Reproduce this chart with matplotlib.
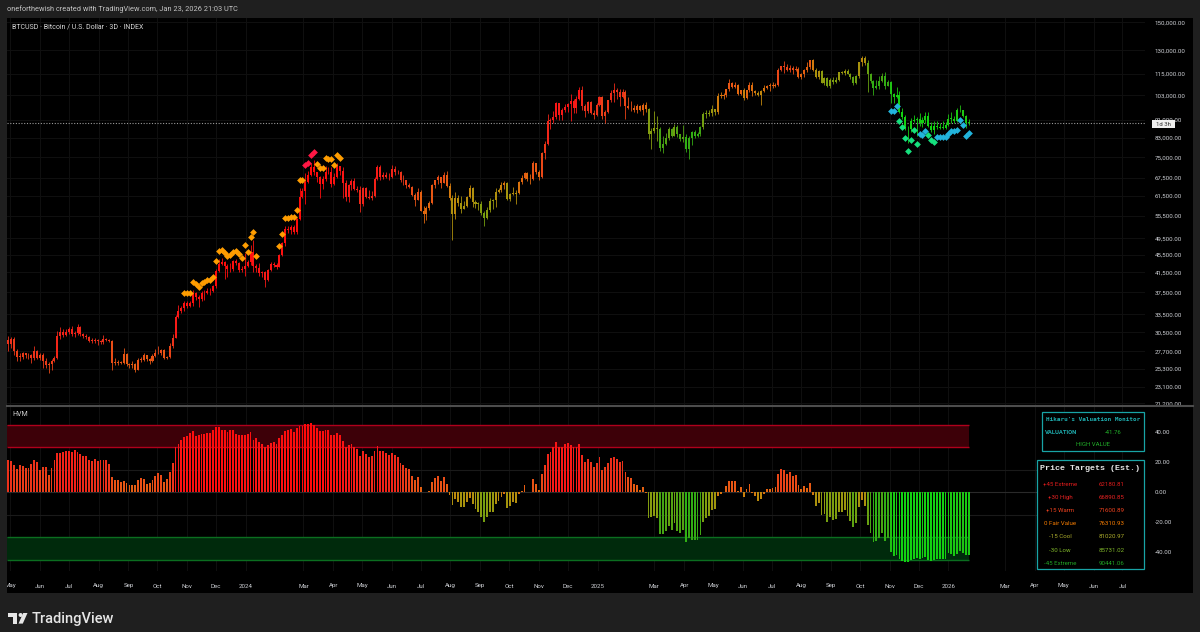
import numpy as np
import pandas as pd
import matplotlib
matplotlib.use("Agg")
import matplotlib.pyplot as plt
import matplotlib.dates as mdates
from matplotlib.colors import LinearSegmentedColormap
from matplotlib.patches import Rectangle, Polygon, Circle

plt.rcParams["font.family"] = ["Roboto", "DejaVu Sans"]

W, H = 1200, 632

# --- BTCUSD 3D candles (prices in k USD), first candle opens 2023-04-29 ---
START = "2023-04-29"
FIRST_OPEN = 29.3
CLOSE = [
    28.7, 29.5, 27.7, 26.9, 26.9, 27.4, 27.1, 27.2, 26.7, 27.7,
    26.8, 27.1, 26.3, 25.8, 25.9, 26.3, 26.8, 29.9, 30.5, 30.1,
    30.6, 31.0, 30.3, 30.4, 31.4, 30.2, 29.9, 29.8, 29.2, 29.3,
    29.2, 29.2, 29.0, 29.5, 29.4, 29.2, 26.1, 26.1, 26.2, 26.1,
    27.3, 25.9, 25.8, 25.9, 25.2, 26.5, 26.5, 27.1, 26.6, 26.3,
    27.0, 27.5, 27.4, 27.9, 26.8, 26.9, 28.4, 29.7, 33.0, 34.1,
    34.5, 35.4, 35.0, 35.4, 37.3, 36.5, 36.2, 37.4, 37.3, 37.7,
    37.8, 38.7, 41.9, 43.3, 43.8, 42.9, 42.3, 42.2, 44.0, 43.6,
    42.1, 42.3, 42.8, 43.9, 46.1, 42.8, 42.5, 41.3, 41.6, 40.0,
    42.1, 43.3, 43.2, 42.7, 45.3, 48.3, 51.8, 51.6, 52.3, 51.0,
    54.5, 61.2, 63.1, 66.1, 68.3, 71.5, 69.4, 67.6, 65.5, 67.2,
    69.5, 69.6, 65.5, 67.8, 71.6, 70.0, 65.7, 61.3, 64.9, 66.4,
    63.8, 63.4, 59.1, 64.0, 61.2, 60.8, 61.6, 67.0, 71.4, 67.9,
    68.5, 67.6, 67.7, 70.6, 69.4, 69.6, 66.8, 66.6, 64.9, 64.3,
    61.8, 60.3, 62.8, 57.0, 55.9, 57.7, 59.2, 65.0, 66.7, 67.6,
    65.8, 68.3, 64.6, 60.7, 56.0, 60.9, 59.3, 57.5, 58.4, 61.1,
    64.2, 59.5, 59.0, 59.1, 56.2, 54.8, 57.3, 60.0, 60.3, 62.9,
    63.3, 65.2, 65.6, 60.6, 62.1, 62.1, 62.4, 66.0, 67.4, 69.0,
    67.0, 67.0, 72.7, 69.5, 67.8, 76.5, 80.4, 90.5, 90.6, 92.3,
    98.9, 93.0, 95.6, 97.2, 98.7, 99.9, 96.6, 101.4, 106.0, 97.5,
    95.1, 99.4, 94.3, 93.4, 98.1, 102.1, 92.5, 94.5, 100.5, 104.4,
    106.1, 104.7, 102.1, 104.7, 97.7, 96.6, 96.5, 95.8, 97.5, 95.7,
    98.3, 96.1, 84.7, 86.0, 87.2, 86.7, 78.5, 80.4, 82.6, 86.8,
    83.8, 87.4, 84.3, 82.5, 83.1, 78.2, 82.6, 85.3, 83.7, 84.5,
    87.5, 93.9, 93.8, 94.2, 95.9, 94.7, 102.9, 102.8, 103.5, 106.4,
    109.6, 107.8, 108.9, 103.9, 105.8, 101.6, 105.7, 108.7, 105.5, 104.5,
    103.3, 105.4, 106.9, 108.4, 108.8, 108.2, 108.9, 117.5, 119.8, 119.3,
    117.3, 118.7, 117.6, 117.9, 113.3, 115.0, 117.5, 119.3, 123.3, 117.4,
    113.5, 116.9, 110.1, 112.6, 108.2, 111.7, 110.2, 111.4, 116.0, 115.4,
    117.1, 115.2, 113.3, 109.7, 114.0, 122.2, 124.7, 121.6, 115.2, 110.8,
    107.2, 108.4, 111.0, 114.1, 108.3, 110.6, 103.9, 102.3, 103.0, 94.5,
    92.2, 86.6, 86.8, 90.5, 90.8, 91.3, 89.4, 90.6, 92.5, 88.2,
    86.1, 88.1, 87.5, 87.3, 87.2, 88.7, 91.5, 91.3, 90.5, 95.5,
    95.5, 92.6, 89.5, 89.4,
]
HIGH = [
    29.9, 29.8, 29.8, 28.0, 27.5, 27.6, 27.5, 27.5, 27.3, 28.4,
    27.8, 27.4, 27.4, 26.8, 26.2, 26.6, 27.0, 30.8, 31.4, 31.0,
    31.0, 31.3, 31.5, 30.8, 31.8, 31.5, 30.4, 30.2, 30.0, 29.7,
    29.6, 29.5, 29.4, 30.1, 29.7, 29.5, 29.4, 26.8, 26.5, 26.4,
    28.1, 27.5, 26.1, 26.4, 26.1, 26.8, 26.9, 27.4, 27.2, 26.7,
    27.3, 28.0, 28.5, 28.0, 28.0, 27.0, 28.9, 30.2, 33.4, 35.2,
    34.9, 35.9, 35.8, 35.8, 38.0, 37.5, 37.0, 37.8, 37.9, 38.4,
    38.3, 38.9, 42.3, 44.5, 44.7, 44.0, 43.4, 43.5, 44.3, 44.4,
    43.7, 43.0, 45.9, 44.3, 47.9, 49.0, 43.3, 43.6, 41.9, 41.8,
    42.2, 43.9, 43.9, 43.6, 45.6, 48.6, 52.8, 52.8, 52.9, 52.9,
    54.9, 64.0, 63.9, 69.0, 69.9, 72.9, 73.8, 69.6, 68.1, 68.2,
    71.7, 71.5, 71.3, 69.2, 72.7, 71.7, 71.3, 66.9, 65.4, 67.2,
    67.4, 64.7, 64.7, 64.5, 64.4, 63.4, 63.0, 67.6, 71.9, 71.9,
    69.5, 69.5, 69.2, 71.9, 71.8, 70.1, 70.0, 68.4, 66.9, 65.6,
    64.6, 62.4, 63.9, 63.4, 58.5, 58.4, 59.8, 65.3, 66.9, 68.4,
    67.9, 69.4, 70.0, 65.6, 61.9, 62.7, 61.8, 61.6, 59.8, 61.5,
    64.9, 64.5, 60.2, 59.5, 59.8, 56.9, 58.1, 60.7, 60.5, 64.1,
    64.1, 66.0, 66.5, 66.0, 62.4, 64.5, 63.4, 66.5, 68.4, 69.5,
    69.5, 68.9, 73.6, 73.0, 70.1, 76.9, 81.5, 93.5, 91.8, 94.9,
    99.5, 99.0, 96.6, 98.7, 99.0, 103.9, 101.3, 102.5, 107.8, 108.3,
    98.4, 99.9, 99.9, 95.5, 98.9, 102.7, 102.5, 95.8, 100.7, 105.8,
    109.6, 106.8, 106.5, 106.4, 106.0, 102.4, 100.1, 98.1, 98.4, 98.3,
    98.9, 99.5, 96.7, 87.1, 95.0, 92.8, 87.5, 83.7, 85.0, 87.4,
    87.0, 88.8, 88.5, 84.7, 88.5, 84.7, 83.5, 86.0, 86.4, 85.5,
    88.1, 94.6, 95.7, 95.6, 97.9, 96.0, 104.2, 104.9, 104.4, 106.7,
    111.9, 110.5, 110.2, 109.3, 106.0, 106.9, 106.0, 110.4, 110.2, 106.2,
    105.6, 106.2, 108.5, 108.8, 109.8, 110.5, 109.7, 118.9, 120.0, 123.2,
    120.9, 120.2, 119.9, 119.8, 119.3, 115.8, 117.8, 122.3, 123.7, 124.5,
    118.6, 117.4, 117.4, 113.3, 113.4, 112.5, 113.4, 113.3, 116.3, 116.7,
    117.9, 117.9, 115.6, 114.0, 114.4, 122.5, 125.9, 126.2, 123.6, 115.9,
    111.6, 111.8, 113.9, 115.5, 116.2, 111.3, 111.1, 104.5, 107.5, 105.3,
    96.6, 93.2, 88.2, 91.9, 93.0, 92.0, 94.1, 92.2, 94.6, 94.5,
    90.0, 90.4, 90.4, 89.4, 90.4, 89.8, 93.9, 94.8, 92.5, 96.4,
    97.9, 95.6, 93.4, 91.2,
]
LOW = [
    27.7, 28.2, 27.2, 26.4, 26.3, 26.6, 26.7, 26.6, 26.1, 26.5,
    26.6, 26.5, 25.4, 25.4, 24.8, 25.2, 26.2, 26.6, 29.5, 29.8,
    29.9, 30.3, 29.9, 29.8, 30.1, 29.9, 29.6, 29.5, 29.0, 28.9,
    28.9, 28.6, 28.7, 28.8, 29.2, 29.0, 25.2, 25.8, 25.8, 25.9,
    25.9, 25.7, 25.4, 25.4, 24.9, 25.1, 26.2, 26.4, 26.4, 26.0,
    26.2, 26.9, 27.3, 27.1, 26.6, 26.6, 26.8, 28.2, 29.6, 32.9,
    33.7, 34.1, 34.6, 34.7, 35.0, 36.0, 34.8, 35.8, 36.1, 37.1,
    36.9, 37.6, 38.4, 41.5, 43.1, 40.2, 40.6, 41.7, 41.8, 43.1,
    41.5, 41.5, 40.8, 42.6, 43.2, 41.5, 41.7, 40.7, 40.6, 38.5,
    39.8, 41.8, 42.6, 42.3, 42.6, 45.2, 47.6, 50.8, 50.6, 50.5,
    50.6, 54.4, 60.8, 59.0, 65.6, 68.1, 68.3, 66.0, 60.8, 63.8,
    66.5, 68.9, 64.5, 65.1, 67.4, 68.6, 60.7, 59.8, 59.6, 63.5,
    63.3, 62.9, 56.5, 58.5, 60.8, 60.6, 60.1, 61.2, 66.6, 66.7,
    67.2, 67.3, 66.7, 67.4, 68.6, 68.8, 66.1, 65.0, 64.0, 63.9,
    61.6, 58.5, 60.2, 56.8, 53.5, 54.3, 57.1, 59.0, 63.9, 65.4,
    64.1, 65.6, 64.4, 60.1, 49.1, 54.7, 58.5, 56.2, 57.4, 58.1,
    60.8, 58.1, 57.9, 57.2, 55.7, 52.6, 54.6, 56.6, 57.6, 58.2,
    62.4, 62.8, 63.6, 60.2, 59.9, 61.9, 58.9, 62.2, 65.4, 67.1,
    66.3, 65.3, 66.9, 68.8, 66.8, 67.4, 74.5, 79.9, 86.6, 89.4,
    91.5, 91.0, 90.9, 94.5, 94.6, 90.5, 94.2, 94.0, 100.8, 95.6,
    92.2, 94.2, 93.8, 91.5, 92.8, 97.4, 91.2, 89.3, 94.1, 99.8,
    99.5, 101.2, 97.8, 101.8, 91.2, 96.2, 95.3, 94.8, 94.1, 95.2,
    93.4, 94.8, 82.3, 78.2, 85.0, 81.5, 77.5, 76.6, 79.9, 82.0,
    83.2, 83.6, 83.2, 81.6, 81.2, 77.0, 74.5, 79.8, 83.0, 83.1,
    83.8, 86.5, 91.8, 92.8, 92.9, 93.4, 93.6, 101.5, 101.4, 102.0,
    105.4, 106.8, 106.8, 103.2, 103.0, 100.4, 101.0, 105.0, 102.8, 103.5,
    102.6, 98.2, 104.8, 106.4, 105.2, 107.2, 107.5, 108.3, 116.6, 115.7,
    116.8, 116.3, 115.0, 117.1, 112.7, 111.9, 113.0, 116.4, 118.3, 116.8,
    112.4, 112.0, 109.7, 108.7, 107.5, 107.3, 109.4, 110.0, 111.0, 114.8,
    114.6, 114.8, 111.9, 108.7, 109.0, 112.7, 119.8, 120.6, 104.6, 109.8,
    103.5, 106.3, 106.7, 110.5, 106.3, 108.1, 98.9, 99.3, 101.5, 94.0,
    91.2, 86.1, 80.5, 85.3, 89.9, 83.8, 88.0, 87.7, 89.3, 87.6,
    85.2, 84.4, 86.8, 86.6, 86.7, 86.9, 88.2, 89.3, 89.6, 90.0,
    94.6, 92.0, 87.3, 88.3,
]
# HVM oscillator, one value per candle
HVM = [
    21.3, 21.0, 18.0, 15.5, 18.0, 17.3, 16.4, 16.0, 18.7, 21.3,
    20.0, 15.0, 17.0, 17.0, 11.5, 16.0, 21.3, 26.0, 26.0, 27.0,
    27.3, 27.8, 27.0, 28.4, 27.0, 25.3, 24.2, 24.2, 21.5, 20.7,
    22.2, 21.0, 21.5, 21.5, 21.5, 19.0, 10.2, 8.2, 8.0, 7.1,
    7.3, 6.0, 4.9, 4.9, 5.1, 8.4, 9.6, 8.7, 5.6, 6.4,
    8.4, 11.1, 12.7, 11.5, 7.1, 8.7, 13.6, 19.8, 30.2, 32.2,
    34.9, 36.9, 37.3, 39.6, 40.9, 37.3, 38.2, 38.7, 38.9, 39.3,
    39.8, 41.3, 43.6, 43.3, 41.3, 41.6, 40.4, 41.6, 41.6, 38.9,
    38.2, 38.2, 38.2, 38.9, 40.0, 35.1, 36.4, 33.8, 32.4, 30.0,
    31.8, 32.9, 33.6, 32.4, 36.4, 38.4, 40.9, 41.8, 42.2, 40.4,
    42.7, 44.4, 44.4, 45.3, 45.6, 46.2, 44.9, 43.1, 41.1, 41.1,
    41.6, 41.6, 38.2, 38.2, 39.8, 38.2, 34.2, 30.2, 31.6, 32.4,
    30.2, 29.1, 24.2, 27.3, 25.6, 23.8, 24.2, 27.3, 30.7, 27.6,
    27.6, 26.2, 24.9, 26.2, 24.7, 23.8, 19.8, 18.4, 16.4, 15.3,
    11.1, 8.2, 10.2, 3.8, 0.4, 0.4, 0.9, 6.9, 9.3, 11.1,
    7.8, 10.2, 5.6, -1.8, -8.4, -4.7, -6.2, -10.0, -9.6, -6.2,
    -3.6, -8.0, -11.1, -12.9, -16.7, -19.6, -16.2, -13.3, -12.9, -7.8,
    -5.6, -2.9, -1.3, -10.7, -9.1, -6.7, -7.3, -1.3, 0.9, 4.9,
    0.3, 0.3, 8.7, 5.8, 1.6, 12.2, 18.2, 25.3, 27.1, 30.0,
    33.3, 30.2, 30.4, 32.4, 32.9, 31.6, 30.4, 30.4, 32.4, 24.9,
    20.4, 22.2, 20.4, 16.9, 19.8, 23.3, 14.9, 16.9, 19.3, 22.7,
    23.6, 22.2, 20.0, 20.7, 13.6, 10.2, 9.8, 5.3, 4.9, 1.6,
    3.3, -0.7, -16.9, -16.4, -15.6, -16.9, -27.6, -27.6, -25.8, -22.2,
    -25.1, -20.7, -25.8, -27.1, -25.1, -33.3, -30.7, -31.8, -31.8, -31.8,
    -28.4, -19.6, -17.3, -15.6, -11.8, -11.3, -2.4, -1.1, 0.5, 4.2,
    7.3, 7.3, 7.3, 0.9, 3.6, -2.9, 2.0, 5.6, -0.7, -2.4,
    -5.6, -4.2, -1.3, 2.0, 2.0, 2.9, 3.6, 12.2, 15.6, 14.7,
    12.4, 13.3, 11.1, 11.6, 4.7, 2.0, 4.2, 2.7, 6.2, -1.8,
    -9.1, -7.3, -15.1, -14.7, -19.6, -16.2, -18.2, -17.8, -12.9, -12.9,
    -11.8, -15.6, -18.9, -23.3, -20.4, -9.6, -5.1, -8.9, -21.8, -27.3,
    -32.9, -32.7, -30.7, -26.9, -32.4, -30.7, -39.6, -42.2, -41.8, -44.4,
    -45.6, -46.2, -46.2, -45.1, -44.4, -44.0, -44.4, -44.0, -42.9, -45.1,
    -45.6, -45.1, -44.4, -44.4, -44.2, -44.4, -40.7, -41.3, -42.2, -41.3,
    -38.9, -40.2, -41.8, -41.8,
]
# valuation signal diamonds: (first candle, last candle) runs
HOT_RUNS = [(61, 86), (94, 102), (107, 115)]
EXTREME_HOT_RUNS = [(103, 106)]
COLD_RUNS = [(306, 308), (316, 318), (322, 333)]
EXTREME_COLD_RUNS = [(309, 315), (319, 321)]

PRICE_TICKS = [150000, 130000, 115000, 103000, 91000, 83000, 75000, 67500,
               61500, 55500, 49500, 45500, 41500, 37500, 33500, 30500,
               27700, 25300, 23100, 21200]
HVM_TICKS = [40, 20, 0, -20, -40]

TARGET_LABELS = ["+45 Extreme", "+30 High", "+15 Warm", "0 Fair Value",
                 "-15 Cool", "-30 Low", "-45 Extreme"]
TARGET_VALUES = [62180.81, 66890.85, 71600.89, 76310.93, 81020.97, 85731.02, 90441.06]
TARGET_COLORS = ["#e01c1c", "#ea2222", "#f0421f", "#f57c00", "#adad2c", "#7fb52a", "#22a626"]
VALUATION = -41.76

# colour ramp of the indicator (value -> colour)
STOPS = [(-45, "#12d212"), (-30, "#38a614"), (-15, "#8e9c0e"), (-4, "#c2880c"),
         (0, "#e26a0e"), (10, "#ea4e16"), (22, "#ec2e1a"), (32, "#fa1616"), (45, "#ff0a0a")]
cmap = LinearSegmentedColormap.from_list(
    "hvm", [((v + 45) / 90, c) for v, c in STOPS])


def hvm_color(v):
    return cmap(np.clip((np.asarray(v) + 45) / 90, 0, 1))


def frac(x0, y0, x1, y1):
    return [x0 / W, 1 - y1 / H, (x1 - x0) / W, (y1 - y0) / H]


def px_axes(z):
    a = fig.add_axes([0, 0, 1, 1], zorder=z)
    a.set_xlim(0, W)
    a.set_ylim(H, 0)
    a.axis("off")
    a.patch.set_alpha(0)
    return a


def expand(runs):
    return [i for a, b in runs for i in range(a, b + 1)]


dates = pd.date_range(START, periods=len(CLOSE), freq="3D")
x = mdates.date2num(dates)
close = np.array(CLOSE) * 1000
open_ = np.r_[FIRST_OPEN, CLOSE[:-1]] * 1000
high = np.maximum.reduce([np.array(HIGH) * 1000, open_, close])
low = np.minimum.reduce([np.array(LOW) * 1000, open_, close])
hvm = np.array(HVM)
cols = hvm_color(hvm)

fig = plt.figure(figsize=(W / 100, H / 100), dpi=100, facecolor="#1f1f1f")
bg = px_axes(0)
bg.add_patch(Rectangle((7, 18), 1186, 575, fc="black", ec="none"))

ax = fig.add_axes(frac(7, 18, 1145, 405), zorder=1, facecolor="black")
ax2 = fig.add_axes(frac(7, 407, 1145, 571), zorder=1, facecolor="black", sharex=ax)
top = px_axes(3)

grid_c = "#101010"
lbl_c = "#cfd1d6"

# x range: first candle at px 8.3, ~0.9613 px per day
x_left = x[0] - 1.3 / 0.9613
x_right = x_left + 1138 / 0.9613

# month ticks (TradingView skips Feb, shows the year for Jan)
months = pd.date_range("2023-05-01", "2026-07-01", freq="MS")
months = months[months.month != 2]
mx = mdates.date2num(months)
mlab = [str(m.year) if m.month == 1 else m.strftime("%b") for m in months]

# ---- price pane ----
ax.set_yscale("log")
ax.set_ylim(21012, 153350)
ax.vlines(x, low, high, colors=cols, lw=0.6, zorder=3)
body_lo = np.minimum(open_, close)
body_h = np.maximum(np.abs(close - open_), body_lo * 0.003)
ax.bar(x, body_h, bottom=body_lo, width=2.1, color=cols, linewidth=0, zorder=4)

for runs, color, side in [(HOT_RUNS, "#ff9d00", 1), (EXTREME_HOT_RUNS, "#ff1744", 1),
                          (COLD_RUNS, "#22b4dc", -1), (EXTREME_COLD_RUNS, "#16e07e", -1)]:
    idx = expand(runs)
    yy = high[idx] * 1.042 if side > 0 else low[idx] / 1.042
    ax.scatter(x[idx], yy, marker="D", s=12, color=color, linewidths=0, zorder=5)

ax.axhline(close[-1], color="#9a9a9a", lw=0.8, ls=(0, (1, 1.5)), zorder=2)

ax.yaxis.tick_right()
ax.set_yticks(PRICE_TICKS)
ax.set_yticklabels([f"{v:,.2f}" for v in PRICE_TICKS])
ax.yaxis.set_minor_locator(matplotlib.ticker.NullLocator())
ax.tick_params(axis="y", length=0, pad=7, labelsize=4.4, labelcolor=lbl_c)
ax.tick_params(axis="x", length=0, labelbottom=False)
ax.set_xticks(mx)
ax.grid(True, color=grid_c, lw=0.7)
ax.set_axisbelow(True)
for s in ax.spines.values():
    s.set_visible(False)

# ---- HVM pane ----
ax2.set_ylim(-52.5, 56.9)
ax2.fill_between([x_left, x[-1]], 30, 45, color="#3d0008", lw=0, zorder=1)
ax2.hlines([30, 45], x_left, x[-1], color="#b0001c", lw=1.0, zorder=2)
ax2.fill_between([x_left, x[-1]], -45, -30, color="#002a0c", lw=0, zorder=1)
ax2.hlines([-30, -45], x_left, x[-1], color="#0b6e20", lw=1.0, zorder=2)
ax2.axhline(15, color="#1a1a1a", lw=0.8, zorder=1)
ax2.axhline(-15, color="#1a1a1a", lw=0.8, zorder=1)
ax2.axhline(0, color="#2a2a2a", lw=0.8, zorder=1)
ax2.bar(x, hvm, width=1.9, color=cols, linewidth=0, zorder=3)

ax2.yaxis.tick_right()
ax2.set_yticks(HVM_TICKS)
ax2.set_yticklabels([f"{v:.2f}" for v in HVM_TICKS])
ax2.tick_params(axis="y", length=0, pad=7, labelsize=4.4, labelcolor=lbl_c)
ax2.set_xticks(mx)
ax2.set_xticklabels(mlab)
ax2.tick_params(axis="x", length=0, pad=9, labelsize=4.4, labelcolor=lbl_c)
ax2.grid(True, axis="x", color=grid_c, lw=0.7)
ax2.set_axisbelow(True)
for s in ax2.spines.values():
    s.set_visible(False)
ax.set_xlim(x_left, x_right)

# ---- overlay: header, separators, tables, footer ----
top.plot([7, 1193], [406, 406], color="#4d4d4d", lw=1.5)
top.text(7, 9, "oneforthewish created with TradingView.com, Jan 23, 2026 21:03 UTC",
         fontsize=5.3, color="#c4c4c4", va="center")
top.text(12, 27, "BTCUSD · Bitcoin / U.S. Dollar · 3D · INDEX",
         fontsize=5.0, color="#d8d8d8", va="center")
top.text(12, 414, "HVM", fontsize=5.0, color="#d0d0d0", va="center")
# strip beside the chart hides the clipped part of the first month label
top.add_patch(Rectangle((0, 572), 7, 22, fc="#1f1f1f", ec="none"))

top.add_patch(Rectangle((1151.5, 119.5), 23.5, 8.5, fc="#eeeeee", ec="none"))
top.text(1163, 124, "1d 3h", fontsize=4.3, color="#303030", ha="center", va="center")

teal = "#18a4a6"
green_txt = "#22b22a"
top.add_patch(Rectangle((1042, 412), 102, 39, fc="black", ec=teal, lw=0.9))
top.text(1093, 419.5, "Hikaru's Valuation Monitor", family="DejaVu Sans Mono",
         weight="bold", fontsize=4.3, color="#1fb0b2", ha="center", va="center")
top.text(1045, 432, "VALUATION", fontsize=4.2, weight="bold", color="#1fb0b2", va="center")
top.text(1113, 432, f"{VALUATION:.2f}", fontsize=4.3, color=green_txt, ha="center", va="center")
top.text(1093, 445, "HIGH VALUE", fontsize=4.3, color=green_txt, ha="center", va="center")

top.add_patch(Rectangle((1037, 460), 107, 109, fc="black", ec=teal, lw=0.9))
top.text(1090.5, 469, "Price Targets (Est.)", family="Liberation Mono", weight="bold",
         fontsize=6.0, color="#e6e6e6", ha="center", va="center")
for k, (lab, val, c) in enumerate(zip(TARGET_LABELS, TARGET_VALUES, TARGET_COLORS)):
    yy = 484 + 13.2 * k
    top.text(1060, yy, lab, fontsize=4.4, color=c, ha="center", va="center")
    top.text(1112, yy, f"{val:.2f}", fontsize=4.4, color=c, ha="center", va="center")

# TradingView footer logo
logo_c = "#e6e6e6"
top.add_patch(Rectangle((7.7, 613), 9.5, 3.8, fc=logo_c, ec="none"))
top.add_patch(Rectangle((12.8, 613), 4.4, 10.6, fc=logo_c, ec="none"))
top.add_patch(Circle((20.6, 615), 2.0, fc=logo_c, ec="none"))
top.add_patch(Polygon([(18.5, 623.6), (22.8, 623.6), (27.5, 613), (23.2, 613)],
                      closed=True, fc=logo_c, ec="none"))
top.text(32, 618.5, "TradingView", fontsize=10.5, weight="medium", color=logo_c, va="center")

fig.savefig("out.png", dpi=100, facecolor=fig.get_facecolor())
